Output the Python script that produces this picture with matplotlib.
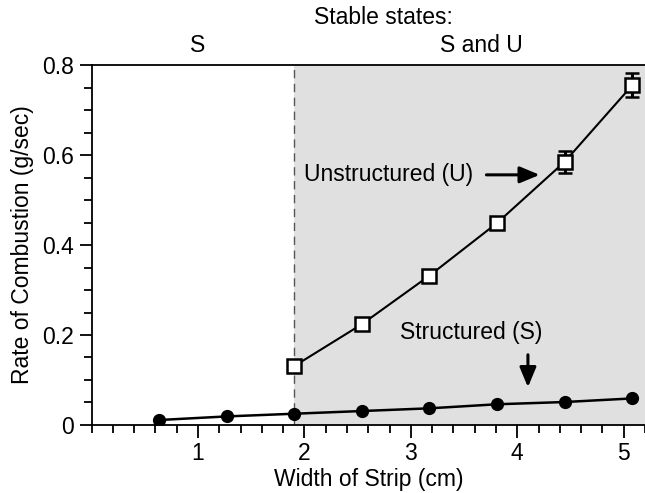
import matplotlib
matplotlib.use('Agg')
import matplotlib.pyplot as plt
import numpy as np
from matplotlib.ticker import MultipleLocator, FixedLocator

plt.rcParams['font.family'] = ['Liberation Sans', 'DejaVu Sans']

# strip widths (cm), multiples of 1/4 inch
width_s = [0.635, 1.27, 1.905, 2.54, 3.175, 3.81, 4.445, 5.08]
rate_s = [0.011, 0.019, 0.025, 0.031, 0.037, 0.046, 0.051, 0.059]

width_u = [1.905, 2.54, 3.175, 3.81, 4.445, 5.08]
rate_u = [0.131, 0.224, 0.332, 0.449, 0.585, 0.755]
err_u = [0.004, 0.004, 0.005, 0.010, 0.025, 0.027]

threshold = 1.905
y_ticks = [0, 0.2, 0.4, 0.6, 0.8]
y_labels = ['0', '0.2', '0.4', '0.6', '0.8']
x_ticks = [1, 2, 3, 4, 5]

FS = 16.5

fig = plt.figure(figsize=(6.45, 4.93), dpi=100)
ax = fig.add_axes([0.142, 0.138, 0.858, 0.730])

ax.axvspan(threshold, 5.2, color='#e0e0e0', lw=0, zorder=0)
ax.axvline(threshold, color='#555555', lw=1, ls=(0, (6, 4)), zorder=1)

ax.plot(width_s, rate_s, color='black', lw=1.8, marker='o', ms=8.5, zorder=3)
ax.errorbar(width_u, rate_u, yerr=err_u, color='black', lw=1.5, elinewidth=2.2,
            capsize=5, capthick=2.8, marker='s', ms=10.5, mfc='white', mec='black',
            mew=1.8, zorder=4)

ax.set_xlim(0, 5.2)
ax.set_ylim(0, 0.8)
ax.xaxis.set_major_locator(FixedLocator(x_ticks))
ax.xaxis.set_minor_locator(MultipleLocator(0.2))
ax.yaxis.set_major_locator(FixedLocator(y_ticks))
ax.set_yticklabels(y_labels)
ax.yaxis.set_minor_locator(MultipleLocator(0.05))
ax.tick_params(which='both', direction='out', labelsize=FS, width=1.3)
ax.tick_params(which='major', length=9)
ax.tick_params(which='minor', length=6)
ax.spines['right'].set_visible(False)
for s in ['left', 'bottom', 'top']:
    ax.spines[s].set_linewidth(1.3)

ax.set_xlabel('Width of Strip (cm)', fontsize=FS, labelpad=2)
ax.set_ylabel('Rate of Combustion (g/sec)', fontsize=FS, labelpad=6)

arrow = dict(arrowstyle='-|>,head_length=1.2,head_width=0.5',
             color='black', lw=2.2, shrinkA=0, shrinkB=0)
ax.text(2.0, 0.556, 'Unstructured (U)', fontsize=FS, va='center', ha='left')
ax.annotate('', xy=(4.21, 0.556), xytext=(3.71, 0.556), arrowprops=arrow)
ax.text(2.9, 0.205, 'Structured (S)', fontsize=FS, va='center', ha='left')
ax.annotate('', xy=(4.1, 0.084), xytext=(4.1, 0.156), arrowprops=arrow)

fig.text(383 / 645, 1 - 17 / 493, 'Stable states:', fontsize=FS, ha='center', va='center')
fig.text(198 / 645, 1 - 46 / 493, 'S', fontsize=FS, ha='center', va='center')
fig.text(481 / 645, 1 - 46 / 493, 'S and U', fontsize=FS, ha='center', va='center')

fig.savefig('out.png', dpi=100)
